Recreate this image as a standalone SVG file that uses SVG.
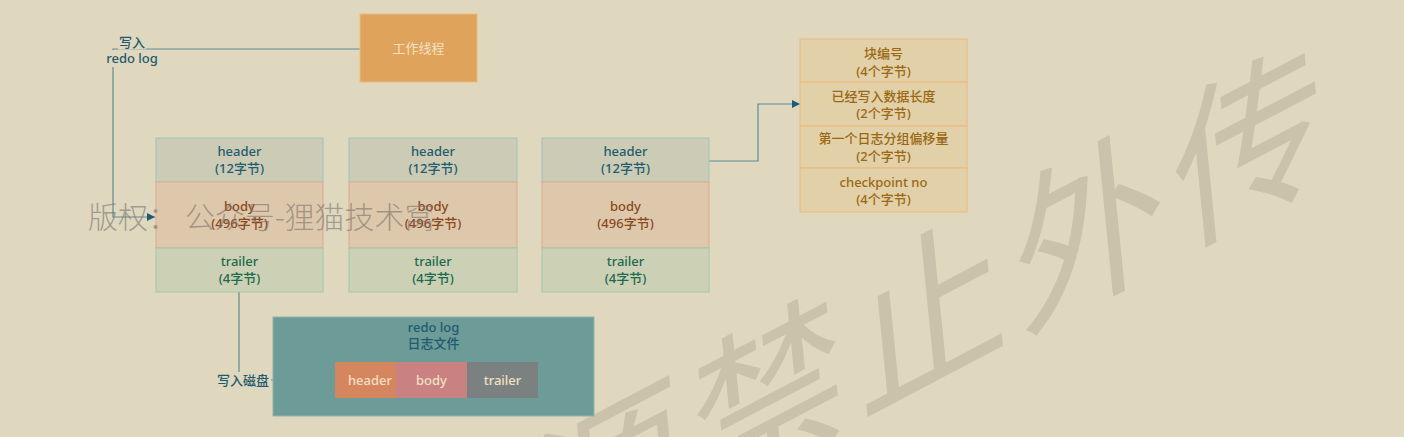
<svg xmlns="http://www.w3.org/2000/svg" width="1404" height="437" viewBox="0 0 1404 437">
<style>
  text { font-family: "Noto Sans", "Noto Sans CJK SC", sans-serif; font-size: 13px; font-weight: 500; text-anchor: middle; }
  .hdr rect { fill: #cccbb6; stroke: #a0c4b9; stroke-width: 1; }
  .hdr text { fill: #1f5e6e; }
  .bdy rect { fill: #dec8ab; stroke: #e2a98b; stroke-width: 1; }
  .bdy text { fill: #8a4820; }
  .trl rect { fill: #ccd1b6; stroke: #9ccaa6; stroke-width: 1; }
  .trl text { fill: #1c6b4a; }
  .row rect { fill: #e2d0a9; stroke: #ecba7c; stroke-width: 1; }
  .row text { fill: #9a6912; }
  .lbl { fill: #1f5a6e; }
  .conn { fill: none; stroke: #5f8c98; stroke-width: 1.2; }
  .bg { fill: #dfd7be; }
  .seg text { fill: #efe0c4; }
</style>
<defs>
  <marker id="arr" viewBox="0 0 10 10" refX="10" refY="5" markerWidth="8" markerHeight="8" markerUnits="userSpaceOnUse" orient="auto">
    <path d="M0,0 L10,5 L0,10 Z" fill="#1d5a78"/>
  </marker>
</defs>
<rect class="bg" x="0" y="0" width="1404" height="437"/>

<!-- big watermark -->
<text transform="matrix(0.885,-0.465,0.1,0.995,539.5,584)" style="font-family:'Noto Sans CJK SC',sans-serif;font-size:170px;font-weight:400;text-anchor:start;letter-spacing:11px;fill:#cac2aa">源禁止外传</text>

<g id="connectors">
  <path class="conn" d="M360,49 H113 V217 H155" marker-end="url(#arr)"/>
  <path class="conn" d="M709,161 H758 V104 H800" marker-end="url(#arr)"/>
  <path class="conn" d="M239,292 V380 H335" marker-end="url(#arr)"/>
</g>

<g id="label-write-redo">
  <rect class="bg" x="118" y="34" width="28" height="15.5"/>
  <rect class="bg" x="105" y="50" width="55" height="17"/>
  <text class="lbl" x="132" y="46.5">写入</text>
  <text class="lbl" x="132" y="62.5">redo log</text>
</g>

<g id="worker">
  <rect x="360" y="14" width="117" height="68" fill="#dfa35c" stroke="#e8bd80" stroke-width="1"/>
  <text x="418.5" y="52.5" style="fill:#f2e2c2;font-weight:400">工作线程</text>
</g>

<g id="block1">
  <g class="hdr"><rect x="156" y="138" width="167" height="44"/><text x="239.5" y="155.5">header</text><text x="239.5" y="172.5">(12字节)</text></g>
  <g class="bdy"><rect x="156" y="182" width="167" height="66"/><text x="239.5" y="210.5">body</text><text x="239.5" y="227.5">(496字节)</text></g>
  <g class="trl"><rect x="156" y="248" width="167" height="44"/><text x="239.5" y="265.5">trailer</text><text x="239.5" y="282.5">(4字节)</text></g>
</g>
<g id="block2">
  <g class="hdr"><rect x="349" y="138" width="168" height="44"/><text x="433" y="155.5">header</text><text x="433" y="172.5">(12字节)</text></g>
  <g class="bdy"><rect x="349" y="182" width="168" height="66"/><text x="433" y="210.5">body</text><text x="433" y="227.5">(496字节)</text></g>
  <g class="trl"><rect x="349" y="248" width="168" height="44"/><text x="433" y="265.5">trailer</text><text x="433" y="282.5">(4字节)</text></g>
</g>
<g id="block3">
  <g class="hdr"><rect x="542" y="138" width="167" height="44"/><text x="625.5" y="155.5">header</text><text x="625.5" y="172.5">(12字节)</text></g>
  <g class="bdy"><rect x="542" y="182" width="167" height="66"/><text x="625.5" y="210.5">body</text><text x="625.5" y="227.5">(496字节)</text></g>
  <g class="trl"><rect x="542" y="248" width="167" height="44"/><text x="625.5" y="265.5">trailer</text><text x="625.5" y="282.5">(4字节)</text></g>
</g>

<g id="header-detail" class="row">
  <rect x="800" y="39" width="167" height="43"/><text x="883.5" y="57.5">块编号</text><text x="883.5" y="75.5">(4个字节)</text>
  <rect x="800" y="82" width="167" height="44"/><text x="883.5" y="100.5">已经写入数据长度</text><text x="883.5" y="118">(2个字节)</text>
  <rect x="800" y="126" width="167" height="42"/><text x="883.5" y="143">第一个日志分组偏移量</text><text x="883.5" y="160.5">(2个字节)</text>
  <rect x="800" y="168" width="167" height="44"/><text x="883.5" y="186.5">checkpoint no</text><text x="883.5" y="203.5">(4个字节)</text>
</g>

<g id="label-write-disk">
  <rect class="bg" x="215" y="372" width="56" height="16"/>
  <text class="lbl" x="243" y="384.5">写入磁盘</text>
</g>

<g id="redo-file">
  <rect x="273" y="317" width="321" height="99" fill="#6d9b98" stroke="#8fb3a8" stroke-width="1"/>
  <text class="lbl" x="433.5" y="331.5">redo log</text>
  <text class="lbl" x="433.5" y="348">日志文件</text>
  <g class="seg">
    <rect x="335" y="362" width="61" height="36" fill="#d5865f"/>
    <text x="370" y="384.5">header</text>
    <rect x="396" y="362" width="71" height="36" fill="#c98281"/>
    <text x="431.5" y="384.5">body</text>
    <rect x="467" y="362" width="71" height="36" fill="#7b8181"/>
    <text x="502.5" y="384.5">trailer</text>
  </g>
</g>

<!-- copyright watermark -->
<text x="88" y="228" style="font-family:'Noto Sans CJK SC',sans-serif;font-size:30px;font-weight:300;text-anchor:start;fill:#77736b;fill-opacity:0.6">版权：  公众号-狸猫技术窝</text>
</svg>
